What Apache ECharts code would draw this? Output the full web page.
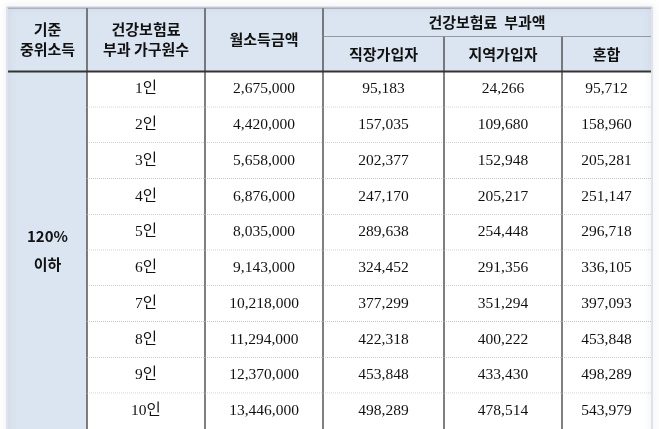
<!DOCTYPE html>
<html><head><meta charset="utf-8">
<script src="https://cdn.jsdelivr.net/npm/echarts@6/dist/echarts.min.js"></script>
<style>html,body{margin:0;padding:0;background:#fff}#c{width:659px;height:429px}</style>
</head><body><div id="c"></div>
<script>
const groupLabel = '120%\n이하';
const households = ['1인','2인','3인','4인','5인','6인','7인','8인','9인','10인'];
const monthlyIncome = ['2,675,000','4,420,000','5,658,000','6,876,000','8,035,000','9,143,000','10,218,000','11,294,000','12,370,000','13,446,000'];
const employee = ['95,183','157,035','202,377','247,170','289,638','324,452','377,299','422,318','453,848','498,289'];
const regional = ['24,266','109,680','152,948','205,217','254,448','291,356','351,294','400,222','433,430','478,514'];
const mixed = ['95,712','158,960','205,281','251,147','296,718','336,105','397,093','453,848','498,289','543,979'];
const headers = ['기준\n중위소득','건강보험료\n부과 가구원수','월소득금액','건강보험료  부과액','직장가입자','지역가입자','혼합'];

const colEdges=[0,79,197,315,436,554,643];
const H1=29,H2=64,RH=36;
const hdrBg='#dbe5f1', line='#555';
const cells=[];
cells.push({x0:0,x1:1,y0:0,y1:H2,t:headers[0],h:1});
cells.push({x0:1,x1:2,y0:0,y1:H2,t:headers[1],h:1});
cells.push({x0:2,x1:3,y0:0,y1:H2,t:headers[2],h:1});
cells.push({x0:3,x1:6,y0:0,y1:H1,t:headers[3],h:1});
cells.push({x0:3,x1:4,y0:H1,y1:H2,t:headers[4],h:1});
cells.push({x0:4,x1:5,y0:H1,y1:H2,t:headers[5],h:1});
cells.push({x0:5,x1:6,y0:H1,y1:H2,t:headers[6],h:1});
cells.push({x0:0,x1:1,y0:H2,y1:H2+RH*10,t:groupLabel,h:1});
const cols=[households,monthlyIncome,employee,regional,mixed];
households.forEach((_,r)=>{cols.forEach((arr,c)=>{cells.push({x0:c+1,x1:c+2,y0:H2+r*RH,y1:H2+(r+1)*RH,t:arr[r],h:0,r:r});});});

const chart=echarts.init(document.getElementById('c'));
chart.setOption({
 animation:false,
 grid:{left:8,top:8,width:643,height:424},
 xAxis:{type:'value',min:0,max:643,show:false},
 yAxis:{type:'value',min:0,max:424,inverse:true,show:false},
 series:[{type:'custom',coordinateSystem:'cartesian2d',
  data:cells.map((c,i)=>[colEdges[c.x0],c.y0,colEdges[c.x1],c.y1,i]),
  renderItem:function(params,api){
   const c=cells[api.value(4)];
   const p0=api.coord([api.value(0),api.value(1)]),p1=api.coord([api.value(2),api.value(3)]);
   const ch=[];
   ch.push({type:'rect',shape:{x:p0[0],y:p0[1],width:p1[0]-p0[0],height:p1[1]-p0[1]},style:{fill:c.h?hdrBg:'#fff'}});
   if(c.x0>0) ch.push({type:'line',shape:{x1:p0[0],y1:p0[1],x2:p0[0],y2:p1[1]},style:{stroke:line,lineWidth:1.5}});
   if(!c.h){
     if(c.r<9) ch.push({type:'line',shape:{x1:p0[0],y1:p1[1],x2:p1[0],y2:p1[1]},style:{stroke:'#999',lineWidth:1,lineDash:[1,1]}});
   } else if(c.y0===0 && c.y1===H1){
     ch.push({type:'line',shape:{x1:p0[0],y1:p1[1],x2:p1[0],y2:p1[1]},style:{stroke:line,lineWidth:1}});
   }
   ch.push({type:'text',style:{x:(p0[0]+p1[0])/2,y:(p0[1]+p1[1])/2,text:c.t,align:'center',verticalAlign:'middle',
     fill:'#111',fontSize:c.h?15:15.5,fontWeight:c.h?'bold':'normal',lineHeight:c.y1-c.y0>200?28:20,
     fontFamily:c.h?'Noto Sans CJK KR':'Liberation Serif, Noto Sans CJK KR'}});
   return {type:'group',children:ch};
  }},
  {type:'custom',coordinateSystem:'cartesian2d',data:[[0,H2,643]],z:5,
   renderItem:function(params,api){
    const a=api.coord([api.value(0),api.value(1)]),b=api.coord([api.value(2),api.value(1)]);
    return {type:'group',children:[
     {type:'line',shape:{x1:a[0],y1:a[1],x2:b[0],y2:b[1]},style:{stroke:'#333',lineWidth:2}},
     {type:'line',shape:{x1:a[0],y1:api.coord([0,0])[1],x2:b[0],y2:api.coord([0,0])[1]},style:{stroke:'#888',lineWidth:1}},
     {type:'rect',shape:{x:a[0]-1,y:api.coord([0,0])[1]-1,width:b[0]-a[0]+2,height:440},style:{fill:'none',stroke:'#ccd',lineWidth:1,shadowBlur:6,shadowColor:'rgba(120,130,160,0.5)'}}
    ]};
   }}
 ]
});
</script></body></html>
